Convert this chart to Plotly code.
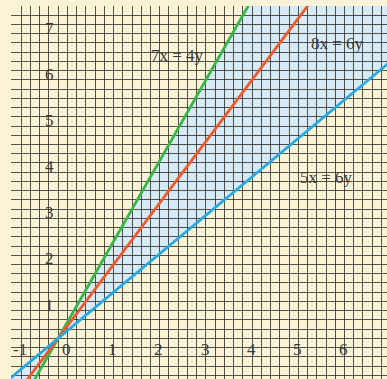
import numpy as np
import plotly.graph_objects as go

# lines a*x = b*y
eq_a = [7, 8, 5]
eq_b = [4, 6, 6]
eq_names = ['7x = 4y', '8x = 6y', '5x = 6y']
eq_colors = ['#3bb54a', '#f15a29', '#27aae1']

# where the equation labels sit
label_x = [2.59, 6.04, 5.82]
label_y = [6.13, 6.39, 3.49]

x_ticks = [-1, 0, 1, 2, 3, 4, 5, 6]
y_ticks = [1, 2, 3, 4, 5, 6, 7]

x_span = np.array([-1.5, 7.5])

fig = go.Figure()

# shaded wedge between the steepest and the shallowest line
steep = eq_a[0] / eq_b[0]
shallow = eq_a[2] / eq_b[2]
path = 'M {0},{1} L {2},{3} L {4},{5} L {6},{7} Z'.format(
    x_span[0], steep * x_span[0], x_span[1], steep * x_span[1],
    x_span[1], shallow * x_span[1], x_span[0], shallow * x_span[0])
fig.add_shape(type='path', path=path, xref='x', yref='y', layer='below',
              fillcolor='#d6eaf8', line_width=0)

for a, b, name, color in zip(eq_a, eq_b, eq_names, eq_colors):
    fig.add_trace(go.Scatter(
        x=x_span, y=a / b * x_span,
        mode='lines', name=name,
        line=dict(color=color, width=2.8),
        hoverinfo='skip'
    ))

text_font = dict(family='Liberation Serif, DejaVu Serif, serif', size=17, color='#3a3a3a')

for name, lx, ly in zip(eq_names, label_x, label_y):
    fig.add_annotation(x=lx, y=ly, text=name, showarrow=False, font=text_font)

for t in x_ticks:
    fig.add_annotation(x=t + 0.18, y=-0.25, text=str(t), showarrow=False, font=text_font)
for t in y_ticks:
    fig.add_annotation(x=-0.18, y=t - 0.28, text=str(t), showarrow=False, font=text_font)

grid = dict(showgrid=True, gridcolor='rgba(45,40,35,0.8)', gridwidth=1.4,
            dtick=0.2, tick0=0, zeroline=False, showticklabels=False,
            ticks='', showline=False, fixedrange=True)

fig.update_layout(
    width=387, height=379,
    margin=dict(l=11, r=0, t=6, b=0),
    paper_bgcolor='#fbf3d6',
    plot_bgcolor='#fbf3d6',
    showlegend=False,
    xaxis=dict(range=[-1.02, 7.12], **grid),
    yaxis=dict(range=[-0.88, 7.2], **grid),
)

# drop the browser's default body margin so the figure sits at the page corner
fig.write_html('out.html', config={'displayModeBar': False},
               post_script="document.body.style.margin = '0';")
